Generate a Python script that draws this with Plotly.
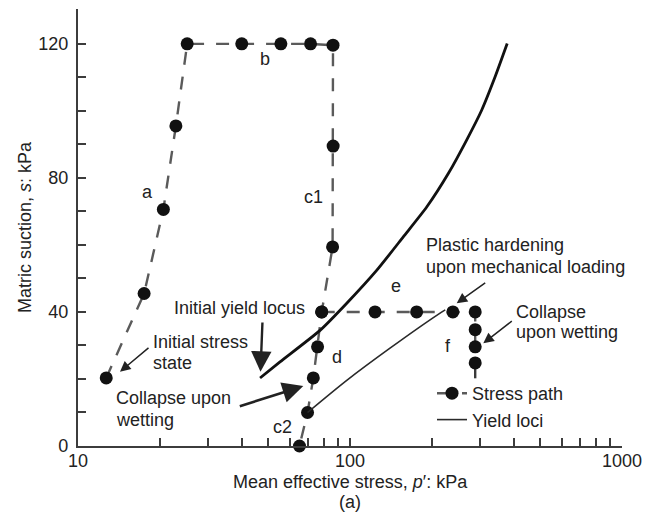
import plotly.graph_objects as go

# Stress path a-b-c1-c2: initial state, drying (a), loading (b), wetting (c1, c2)
path1_p = [12.7, 17.5, 20.6, 22.9, 25.2, 40.0, 55.7, 71.6, 86.6, 86.7, 86.3, 78.7, 76.0, 73.3, 69.8, 65.2]
path1_s = [20.3, 45.5, 70.6, 95.5, 120.0, 120.0, 120.0, 120.0, 119.6, 89.5, 59.4, 40.0, 29.6, 20.3, 10.0, 0.0]

# Stress path e-f: loading at constant suction (e), then wetting (f)
path2_p = [78.7, 123.6, 175.8, 238.9, 288.6, 288.6, 288.6, 288.6]
path2_s = [40.0, 40.0, 40.0, 40.0, 40.0, 34.7, 29.6, 24.8]
# end of the wetting path below the last recorded point
path2_tail_p = [288.6, 288.6]
path2_tail_s = [24.8, 20.2]

# Initial yield locus
init_p = [46.7, 55.3, 77.6, 97.3, 125.3, 157.0, 191.4, 229.8, 268.4, 304.8, 341.3, 378.4]
init_s = [20.3, 25.1, 34.5, 42.6, 52.4, 62.4, 71.3, 81.3, 91.3, 100.2, 110.1, 120.1]

# Yield locus after plastic hardening
hard_p = [69.8, 97.3, 140.3, 208.4, 224.0]
hard_s = [10.0, 19.6, 29.2, 39.0, 40.6]

x_major = [10, 100, 1000]
x_ticks = [v * m for m in (10, 100) for v in range(1, 10)] + [1000]
y_major = [0, 40, 80, 120]
y_ticks = list(range(0, 130, 10))

FONT = "Liberation Sans, Arial, sans-serif"
TXT = "#222222"
AX = "#3c3c3c"
PATH_LINE = dict(color="#5a5a5a", width=2.4, dash="13px,12px")
DOT = dict(color="#111111", size=13, opacity=1, line=dict(width=0))

# plot-area geometry in pixels (used to place free text)
L, R, T, B = 78, 622, 9, 446


def px(x):
    return (x - L) / (R - L)


def py(y):
    return (B - y) / (B - T)


fig = go.Figure()

fig.add_trace(go.Scatter(
    x=path1_p, y=path1_s, mode="lines+markers", name="Stress path",
    line=PATH_LINE, marker=DOT, cliponaxis=False,
))
fig.add_trace(go.Scatter(
    x=path2_tail_p, y=path2_tail_s, mode="lines", showlegend=False,
    line=dict(color="#3a3a3a", width=2.4),
))
fig.add_trace(go.Scatter(
    x=path2_p, y=path2_s, mode="lines+markers", showlegend=False,
    line=PATH_LINE, marker=DOT, cliponaxis=False,
))
fig.add_trace(go.Scatter(
    x=init_p, y=init_s, mode="lines", showlegend=False,
    line=dict(color="#111111", width=2.8, shape="spline", smoothing=0.6),
))
fig.add_trace(go.Scatter(
    x=hard_p, y=hard_s, mode="lines", name="Yield loci",
    line=dict(color="#2a2a2a", width=1.6, shape="spline", smoothing=0.8),
))

annotations = []


def text(s, x, y, anchor="left", size=18):
    annotations.append(dict(
        text=s, x=px(x), y=py(y), xref="paper", yref="paper",
        xanchor=anchor, yanchor="middle", showarrow=False,
        font=dict(size=size, color=TXT, family=FONT),
    ))


def arrow(hx, hy, tx, ty, width, size):
    annotations.append(dict(
        text="", x=px(hx), y=py(hy), xref="paper", yref="paper",
        ax=tx - hx, ay=ty - hy, showarrow=True,
        arrowhead=2, arrowwidth=width, arrowsize=size,
        arrowcolor="#222222", standoff=0,
    ))


# path segment labels
for lab, x, y in [("a", 147.7, 191.7), ("b", 265, 59.3), ("c1", 313.5, 196.7),
                  ("c2", 282.7, 426.7), ("d", 336.7, 356.7), ("e", 396, 286),
                  ("f", 448.3, 346)]:
    text(lab, x, y, anchor="center")

text("Initial yield locus", 172, 308.3)
text("Initial stress", 151, 341.7)
text("state", 151, 363.3)
text("Collapse upon", 114, 397.7)
text("wetting", 114, 420)
text("Plastic hardening", 424, 245)
text("upon mechanical loading", 424, 266.7)
text("Collapse", 514, 311.7)
text("upon wetting", 514, 332.3)

arrow(120, 371.7, 150, 346.7, 1.5, 1.4)
arrow(260.5, 371.7, 262.5, 321, 2.4, 1.7)
arrow(303.3, 386, 238.3, 406.7, 2.6, 1.6)
arrow(456.7, 303.3, 486.7, 281.7, 1.5, 1.4)
arrow(483.3, 343.3, 513.3, 320, 1.5, 1.4)

# axis title and panel tag
text("Mean effective stress, <i>p</i>′: kPa", 350, 482, anchor="center")
text("(a)", 350, 502, anchor="center")

fig.update_layout(
    width=652, height=515,
    margin=dict(l=L, r=652 - R, t=T, b=515 - B, autoexpand=False),
    paper_bgcolor="white", plot_bgcolor="white",
    font=dict(family=FONT, size=18, color=TXT),
    annotations=annotations,
    legend=dict(
        x=px(432), y=py(375), xanchor="left", yanchor="top",
        bgcolor="rgba(0,0,0,0)", font=dict(size=18, color=TXT),
        tracegroupgap=0,
    ),
    xaxis=dict(
        type="log", range=[1, 3],
        tickmode="array", tickvals=x_ticks,
        ticktext=[str(v) if v in x_major else "" for v in x_ticks],
        ticks="inside", ticklen=8, tickwidth=1.6, tickcolor=AX,
        showline=True, linecolor=AX, linewidth=2.2,
        showgrid=False, zeroline=False,
        tickfont=dict(size=18, color=TXT),
        ticklabelstandoff=-3,
    ),
    yaxis=dict(
        range=[0, 130.4],
        tickmode="array", tickvals=y_ticks,
        ticktext=[str(v) if v in y_major else "" for v in y_ticks],
        ticks="inside", ticklen=8, tickwidth=1.6, tickcolor=AX,
        showline=True, linecolor=AX, linewidth=2.2,
        showgrid=False, zeroline=False,
        tickfont=dict(size=18, color=TXT),
        ticklabelstandoff=4,
        title=dict(text="Matric suction, <i>s</i>: kPa", standoff=2,
                   font=dict(size=18, color=TXT)),
    ),
)

fig.write_html("out.html")
